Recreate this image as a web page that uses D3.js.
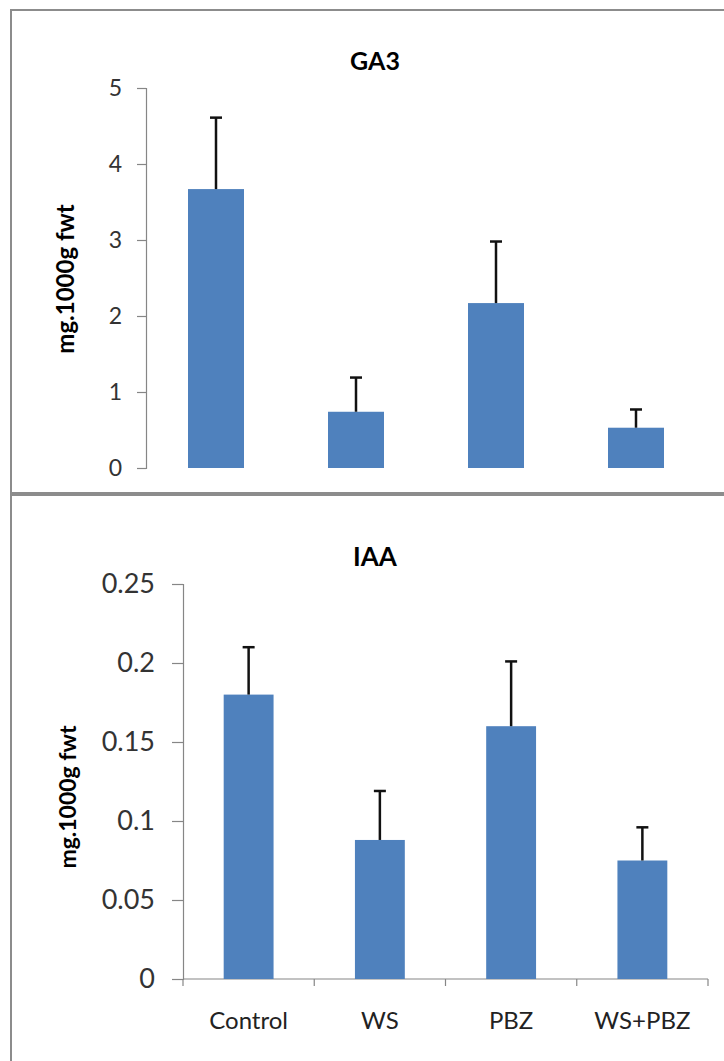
<!DOCTYPE html>
<html>
<head>
<meta charset="utf-8">
<script src="https://cdn.jsdelivr.net/npm/d3@7"></script>
<style>
  body { margin: 0; background: #fff; }
  svg { display: block; }
  svg text { font-family: Lato, "Open Sans", sans-serif; }
</style>
</head>
<body>
<svg id="chart" width="724" height="1061"></svg>
<script>
const categories = ["Control", "WS", "PBZ", "WS+PBZ"];

// GA3 panel
const ga3Values = [3.67, 0.74, 2.17, 0.53];
const ga3Errors = [0.94, 0.45, 0.81, 0.24];
const ga3Ticks = [0, 1, 2, 3, 4, 5];

// IAA panel
const iaaValues = [0.180, 0.088, 0.160, 0.075];
const iaaErrors = [0.030, 0.031, 0.041, 0.021];
const iaaTicks = [0, 0.05, 0.1, 0.15, 0.2, 0.25];

const barColor = "#4f81bd";
const axisColor = "#868686";

let svg = d3.select("#chart");

// panel frames (right side runs off the picture)
svg.append("rect")
    .attr("x", 11).attr("y", 10)
    .attr("width", 800).attr("height", 483)
    .attr("fill", "#fff")
    .attr("stroke", "#8c8c8c").attr("stroke-width", 2);
svg.append("rect")
    .attr("x", 11).attr("y", 495)
    .attr("width", 800).attr("height", 700)
    .attr("fill", "#fff")
    .attr("stroke", "#8c8c8c").attr("stroke-width", 2);

function drawPanel(opt) {
    let g = svg.append("g");

    let x = d3.scaleBand()
        .domain(categories)
        .range([opt.left, opt.right])
        .paddingInner(opt.pad)
        .paddingOuter(opt.pad / 2);

    let y = d3.scaleLinear()
        .domain([0, opt.max])
        .range([opt.bottom, opt.top]);

    // y axis
    let yAxis = d3.axisLeft(y)
        .tickValues(opt.ticks)
        .tickSize(opt.tickSize)
        .tickPadding(opt.tickPad)
        .tickFormat(d3.format(opt.fmt));
    let ya = g.append("g")
        .attr("transform", "translate(" + opt.left + ",0)")
        .call(yAxis)
        .attr("font-family", null);
    ya.select(".domain").attr("stroke", axisColor).attr("stroke-width", 1.2);
    ya.selectAll(".tick line").attr("stroke", axisColor).attr("stroke-width", 1.2);
    ya.selectAll(".tick text")
        .attr("fill", "#333")
        .style("font-size", opt.tickFont + "px");

    // x axis
    if (opt.showX) {
        let bounds = d3.range(categories.length + 1)
            .map(i => opt.left + i * x.step());
        g.append("line")
            .attr("x1", opt.left).attr("x2", opt.right)
            .attr("y1", opt.bottom).attr("y2", opt.bottom)
            .attr("stroke", axisColor).attr("stroke-width", 1.2);
        g.selectAll(".bound")
            .data(bounds)
            .join("line")
            .attr("class", "bound")
            .attr("x1", d => d).attr("x2", d => d)
            .attr("y1", opt.bottom).attr("y2", opt.bottom + 7)
            .attr("stroke", axisColor).attr("stroke-width", 1.2);

        let xAxis = d3.axisBottom(x).tickSize(0).tickPadding(opt.labelPad);
        let xa = g.append("g")
            .attr("transform", "translate(0," + opt.bottom + ")")
            .call(xAxis)
            .attr("font-family", null);
        xa.select(".domain").remove();
        xa.selectAll(".tick text")
            .attr("fill", "#222")
            .style("font-size", opt.catFont + "px");
    }

    // bars
    g.selectAll(".bar")
        .data(opt.values)
        .join("rect")
        .attr("class", "bar")
        .attr("x", (d, i) => x(categories[i]))
        .attr("width", x.bandwidth())
        .attr("y", d => y(d))
        .attr("height", d => y(0) - y(d))
        .attr("fill", barColor);

    // error bars (upper only)
    let err = g.selectAll(".err")
        .data(opt.values.map((v, i) => ({ c: categories[i], v: v, e: opt.errors[i] })))
        .join("g")
        .attr("class", "err");
    err.append("line")
        .attr("x1", d => x(d.c) + x.bandwidth() / 2)
        .attr("x2", d => x(d.c) + x.bandwidth() / 2)
        .attr("y1", d => y(d.v))
        .attr("y2", d => y(d.v + d.e))
        .attr("stroke", "#111").attr("stroke-width", 2.5);
    err.append("line")
        .attr("x1", d => x(d.c) + x.bandwidth() / 2 - 6)
        .attr("x2", d => x(d.c) + x.bandwidth() / 2 + 6)
        .attr("y1", d => y(d.v + d.e))
        .attr("y2", d => y(d.v + d.e))
        .attr("stroke", "#111").attr("stroke-width", 2.5);

    // title
    g.append("text")
        .attr("x", opt.titleX).attr("y", opt.titleY)
        .attr("text-anchor", "middle")
        .style("font-size", opt.titleFont + "px")
        .style("font-weight", "bold")
        .text(opt.title);

    // y label
    g.append("text")
        .attr("transform", "translate(" + opt.labelX + "," + opt.labelY + ") rotate(-90)")
        .attr("text-anchor", "middle")
        .style("font-size", opt.yLabelFont + "px")
        .style("font-weight", "bold")
        .text("mg.1000g fwt");
}

drawPanel({
    title: "GA3", titleX: 375, titleY: 70, titleFont: 25,
    values: ga3Values, errors: ga3Errors, ticks: ga3Ticks, max: 5, fmt: "d",
    left: 146, right: 706, top: 88, bottom: 468, pad: 0.6,
    tickSize: 9, tickPad: 15, tickFont: 23,
    labelX: 74, labelY: 279, yLabelFont: 24,
    showX: false
});

drawPanel({
    title: "IAA", titleX: 375, titleY: 566, titleFont: 26,
    values: iaaValues, errors: iaaErrors, ticks: iaaTicks, max: 0.25, fmt: "",
    left: 183, right: 708, top: 584, bottom: 979, pad: 0.62,
    tickSize: 11, tickPad: 17, tickFont: 27,
    labelX: 76, labelY: 797, yLabelFont: 23,
    showX: true, labelPad: 33, catFont: 24
});
</script>
</body>
</html>
